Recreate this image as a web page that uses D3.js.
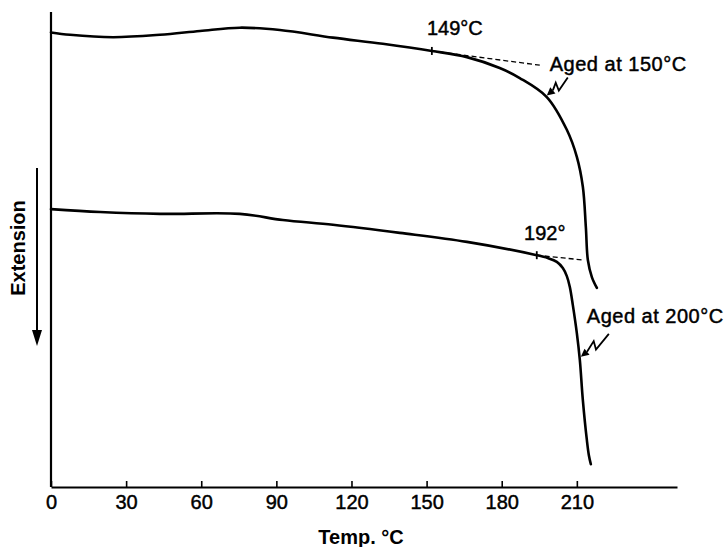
<!DOCTYPE html>
<html>
<head>
<meta charset="utf-8">
<script src="https://cdn.jsdelivr.net/npm/d3@7"></script>
<style>
  html, body { margin: 0; padding: 0; background: #fff; }
  svg { display: block; font-family: "Liberation Sans", Arial, Helvetica, sans-serif; }
</style>
</head>
<body>
<svg id="chart" width="727" height="547"></svg>
<script>
// ---------- data ----------
// x: temperature in °C ; y: extension (arbitrary units, increasing downward)
const xTicks = [0, 30, 60, 90, 120, 150, 180, 210];

const aged150Temp = [0, 7.6, 24.8, 43.5, 59.5, 75.4, 91.4, 112.6, 132.5, 152.1, 166.1, 179.2, 187.2, 198.0, 206.0, 210.0, 212.4, 213.6, 214.4, 216.0, 218.0];
const aged150Ext  = [4.3, 4.8, 5.3, 4.8, 4.0, 3.3, 3.8, 5.4, 6.7, 8.2, 9.5, 11.8, 13.9, 17.9, 24.8, 30.5, 36.8, 45.3, 52.2, 55.8, 58.1];

const aged200Temp = [0, 19.6, 43.5, 75.4, 92.6, 112.6, 139.3, 166.1, 194.0, 198.4, 202.0, 204.4, 206.0, 207.2, 208.4, 210.0, 211.2, 212.4, 214.0, 214.8, 215.6];
const aged200Ext  = [41.5, 42.1, 42.5, 42.5, 43.8, 44.8, 46.5, 48.4, 51.2, 51.8, 52.6, 53.9, 55.6, 57.9, 61.7, 67.6, 73.3, 81.7, 90.1, 93.3, 95.2];

// onset points (temperature, extension) and labels
const onsetLabels = ["149°C", "192°"];
const onsetTemp   = [152.1, 194.0];
const onsetExt    = [8.2, 51.2];
// end of dashed tangent extrapolation
const tangentEndTemp = [195.2, 212.4];
const tangentEndExt  = [11.2, 52.2];

// curve labels and the point on each curve their arrows hit
const curveLabels = ["Aged at 150°C", "Aged at 200°C"];
const arrowTipTemp = [198.0, 211.6];
const arrowTipExt  = [17.6, 72.6];

// ---------- layout ----------
const svg = d3.select("#chart");
const margin = { left: 51, right: 50, top: 12, bottom: 60 };
const W = 727, H = 547;

const x = d3.scaleLinear().domain([0, 250]).range([margin.left, W - margin.right]);
const y = d3.scaleLinear().domain([0, 100]).range([margin.top, H - margin.bottom]);

const ink = "#000";

// x axis
const xAxis = d3.axisBottom(x)
  .tickValues(xTicks)
  .tickSizeInner(-6)
  .tickSizeOuter(0)
  .tickPadding(8)
  .tickFormat(d3.format("d"));

const gx = svg.append("g")
  .attr("transform", `translate(0,${y(100)})`)
  .call(xAxis);
gx.select(".domain").attr("stroke", ink).attr("stroke-width", 2.2);
gx.selectAll(".tick line").attr("stroke", ink).attr("stroke-width", 1.6);
gx.selectAll(".tick text")
  .attr("fill", ink)
  .attr("stroke", ink).attr("stroke-width", 0.45)
  .style("font-size", "20px")
  .style("font-family", "'Liberation Sans', Arial, sans-serif");

// y axis: plain line, no ticks
svg.append("line")
  .attr("x1", x(0)).attr("x2", x(0))
  .attr("y1", y(0)).attr("y2", y(100))
  .attr("stroke", ink).attr("stroke-width", 2.2);

// axis titles
svg.append("text")
  .attr("x", 361).attr("y", 544)
  .attr("text-anchor", "middle")
  .style("font-size", "20px").style("font-weight", "bold")
  .text("Temp. °C");

svg.append("text")
  .attr("transform", "translate(25,248) rotate(-90)")
  .attr("text-anchor", "middle")
  .style("font-size", "20px").style("font-weight", "bold")
  .text("Extension");

// Extension direction arrow
svg.append("line")
  .attr("x1", 37).attr("x2", 37).attr("y1", 168).attr("y2", 332)
  .attr("stroke", ink).attr("stroke-width", 2);
svg.append("path")
  .attr("d", "M32,330 L42,330 L37,346 Z")
  .attr("fill", ink);

// curves
const line = d3.line()
  .x(d => x(d[0])).y(d => y(d[1]))
  .curve(d3.curveCatmullRom.alpha(0.5));

const series = [
  d3.zip(aged150Temp, aged150Ext),
  d3.zip(aged200Temp, aged200Ext)
];
svg.selectAll("path.curve")
  .data(series)
  .join("path")
  .attr("class", "curve")
  .attr("d", line)
  .attr("fill", "none")
  .attr("stroke", ink)
  .attr("stroke-width", 2.6)
  .attr("stroke-linecap", "round");

// dashed tangents
onsetTemp.forEach((t, i) => {
  svg.append("line")
    .attr("x1", x(t)).attr("y1", y(onsetExt[i]))
    .attr("x2", x(tangentEndTemp[i])).attr("y2", y(tangentEndExt[i]))
    .attr("stroke", ink).attr("stroke-width", 1.3)
    .attr("stroke-dasharray", "5,3");
  // onset tick mark
  svg.append("line")
    .attr("x1", x(t)).attr("x2", x(t))
    .attr("y1", y(onsetExt[i]) - 4).attr("y2", y(onsetExt[i]) + 4)
    .attr("stroke", ink).attr("stroke-width", 1.8);
});

// onset labels
const onsetOffsets = [[23, -16], [8, -15]];
onsetLabels.forEach((lab, i) => {
  svg.append("text")
    .attr("x", x(onsetTemp[i]) + onsetOffsets[i][0])
    .attr("y", y(onsetExt[i]) + onsetOffsets[i][1])
    .attr("text-anchor", "middle")
    .attr("stroke", ink).attr("stroke-width", 0.45)
    .style("font-size", "20px")
    .text(lab);
});

// curve labels with lightning-bolt arrows
const labelOffsets = [[3, -25], [6, -34]];   // label start relative to arrow tip
const tailOffsets  = [[21, -18], [28, -23]];  // arrow tail relative to arrow tip

function bolt(tail, tip) {
  const dx = tip[0] - tail[0], dy = tip[1] - tail[1];
  const L = Math.hypot(dx, dy), ux = dx / L, uy = dy / L;
  const nx = -uy, ny = ux;
  const A = [tail[0] + 0.55 * dx - nx * 4, tail[1] + 0.55 * dy - ny * 4];
  const B = [tail[0] + 0.45 * dx + nx * 4, tail[1] + 0.45 * dy + ny * 4];
  const base = [tip[0] - ux * 8, tip[1] - uy * 8];
  return {
    line: `M${tail[0]},${tail[1]} L${A[0]},${A[1]} L${B[0]},${B[1]} L${base[0]},${base[1]}`,
    head: `M${tip[0]},${tip[1]} L${base[0] + nx * 4},${base[1] + ny * 4} L${base[0] - nx * 4},${base[1] - ny * 4} Z`
  };
}

curveLabels.forEach((lab, i) => {
  const tip = [x(arrowTipTemp[i]), y(arrowTipExt[i])];
  const tail = [tip[0] + tailOffsets[i][0], tip[1] + tailOffsets[i][1]];
  const b = bolt(tail, tip);
  svg.append("path").attr("d", b.line).attr("fill", "none")
    .attr("stroke", ink).attr("stroke-width", 1.8).attr("stroke-linejoin", "miter");
  svg.append("path").attr("d", b.head).attr("fill", ink);
  svg.append("text")
    .attr("x", tip[0] + labelOffsets[i][0])
    .attr("y", tip[1] + labelOffsets[i][1])
    .attr("stroke", ink).attr("stroke-width", 0.45)
    .style("font-size", "20px")
    .style("letter-spacing", "0.5px")
    .text(lab);
});
</script>
</body>
</html>
